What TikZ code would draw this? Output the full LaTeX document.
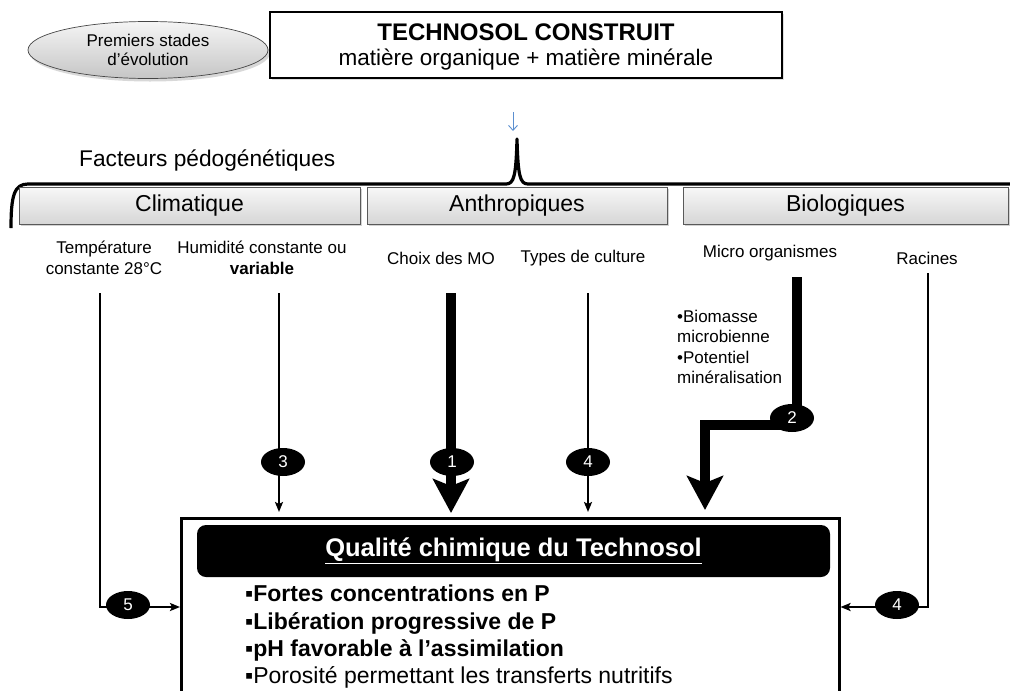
\documentclass[tikz,border=0pt]{standalone}
\usepackage{fontspec}
\setmainfont{Liberation Sans}
\usetikzlibrary{shapes.geometric,arrows.meta,shadows}
\begin{document}
\begin{tikzpicture}[x=1pt,y=-1pt,
  catbox/.style={draw=gray!70!black, line width=0.7pt, top color=gray!6, bottom color=gray!32,
    drop shadow={shadow xshift=2pt,shadow yshift=-2pt,opacity=0.35}, minimum height=37pt,
    inner sep=0pt, font=\fontsize{23}{27}\selectfont},
  lbl/.style={align=center, inner sep=0pt, font=\fontsize{17}{21}\selectfont},
  badge/.style={ellipse, fill=black, minimum width=44pt, minimum height=28pt, inner sep=0pt,
    text=white, font=\fontsize{17}{20}\selectfont},
  thinarr/.style={line width=2.3pt, -{Stealth[length=10pt 0 0,width=8pt 0 0,inset=2pt 0 0]}},
  bigarr/.style={line width=10pt, line join=miter, -{Stealth[length=34pt 0 0,width=36pt 0 0,inset=7pt 0 0]}},
  item/.style={anchor=base west, inner sep=0pt, font=\fontsize{23}{27}\selectfont},
  bitem/.style={item, font=\bfseries\fontsize{23}{27}\selectfont},
  bluearr/.style={draw={rgb,255:red,91;green,143;blue,208}, line width=0.9pt, -{Straight Barb[length=5pt,width=9pt]}},
]
\useasboundingbox (0,0) rectangle (1010,691);
\clip (0,0) rectangle (1010,691);
\fill[white] (0,0) rectangle (1010,691);

% top
\node[ellipse, draw=gray!55!black, line width=0.7pt, top color=gray!8, bottom color=gray!45,
  drop shadow={shadow xshift=2pt,shadow yshift=-3pt,opacity=0.3},
  minimum width=240pt, minimum height=57pt, inner sep=0pt, align=center,
  font=\fontsize{17}{18.5}\selectfont] (stage) at (148,50) {Premiers stades\\d’évolution};
\node[draw, line width=2.5pt, fill=white, drop shadow={shadow xshift=2pt,shadow yshift=-2pt,opacity=0.25},
  minimum width=512pt, minimum height=66pt, inner sep=0pt] (tech) at (526,45) {};
\node[inner sep=0pt, font=\bfseries\fontsize{24}{28}\selectfont] (ttl) at (526,32) {TECHNOSOL CONSTRUIT};
\node[inner sep=0pt, font=\fontsize{22.5}{28}\selectfont] (sub) at (526,60) {matière organique + matière minérale};

\coordinate (ba) at (513,112);
\coordinate (bb) at (513,131);
\draw[bluearr] (ba) -- (bb);

% brace
\draw[line width=3.2pt, line join=round] (11,228) .. controls (11,196) and (14,184) .. (28,184)
  -- (506,184) .. controls (514,184) and (516,176) .. (517,139)
  .. controls (518,176) and (520,184) .. (528,184) -- (1015,184);

\node[anchor=base west, inner sep=0pt, font=\fontsize{22.7}{26}\selectfont] (fact) at (79,166) {Facteurs pédogénétiques};

\node[catbox, minimum width=341pt] (clim) at (189.5,205.5) {Climatique};
\node[catbox, minimum width=300pt] (anth) at (517,205.5) {Anthropiques};
\node[catbox, minimum width=325pt] (bio) at (845.5,205.5) {Biologiques};

% labels
\node[lbl] (temp) at (104,258) {Température\\constante 28°C};
\node[lbl] (hum) at (262,258) {Humidité constante ou\\\bfseries variable};
\node[lbl] (choix) at (441,258) {Choix des MO};
\node[lbl] (types) at (583,258) {Types de culture};
\node[lbl] (micro) at (770,253) {Micro organismes};
\node[lbl] (rac) at (927,258) {Racines};
\node[lbl, align=left, anchor=west, font=\fontsize{17}{20.5}\selectfont] (mbul) at (677,347)
  {•Biomasse\\microbienne\\•Potentiel\\minéralisation};

% main box
\node[draw, line width=2.5pt, anchor=north west, minimum width=658pt, minimum height=210pt, inner sep=0pt] (qual) at (180,517) {};
\node[fill=black, rounded corners=9pt, minimum width=633pt, minimum height=52pt, inner sep=0pt,
  text=white, font=\bfseries\fontsize{25.5}{30}\selectfont] (head) at (513.5,551) {\underline{Qualité chimique du Technosol}};
\node[bitem] (i1) at (245,601) {▪Fortes concentrations en P};
\node[bitem] (i2) at (245,629) {▪Libération progressive de P};
\node[bitem] (i3) at (245,656) {▪pH favorable à l’assimilation};
\node[item] (i4) at (245,683) {▪Porosité permettant les transferts nutritifs};

% connectors
\coordinate (t1) at (100,293); \coordinate (t2) at (100,607);
\draw[thinarr] (t1) -- (t2) -- (qual.west |- t2);
\coordinate (h1) at (279,293); \coordinate (h2) at (279,512);
\draw[thinarr] (h1) -- (h2);
\coordinate (c1) at (451,293); \coordinate (c2) at (451,513);
\draw[bigarr] (c1) -- (c2);
\coordinate (y1) at (588,293); \coordinate (y2) at (588,512);
\draw[thinarr] (y1) -- (y2);
\coordinate (m1) at (797,277); \coordinate (m2) at (797,425); \coordinate (m3) at (705,425); \coordinate (m4) at (705,510);
\draw[bigarr] (m1) -- (m2) -- (m3) -- (m4);
\coordinate (r1) at (928,273); \coordinate (r2) at (928,607);
\draw[thinarr] (r1) -- (r2) -- (qual.east |- r2);

% badges
\node[badge] (b3) at (283,462) {3};
\node[badge] (b1) at (452,462) {1};
\node[badge] (b4a) at (588,462) {4};
\node[badge] (b2) at (792,418) {2};
\node[badge] (b5) at (128,605) {5};
\node[badge] (b4b) at (897,605) {4};
\end{tikzpicture}
\end{document}
